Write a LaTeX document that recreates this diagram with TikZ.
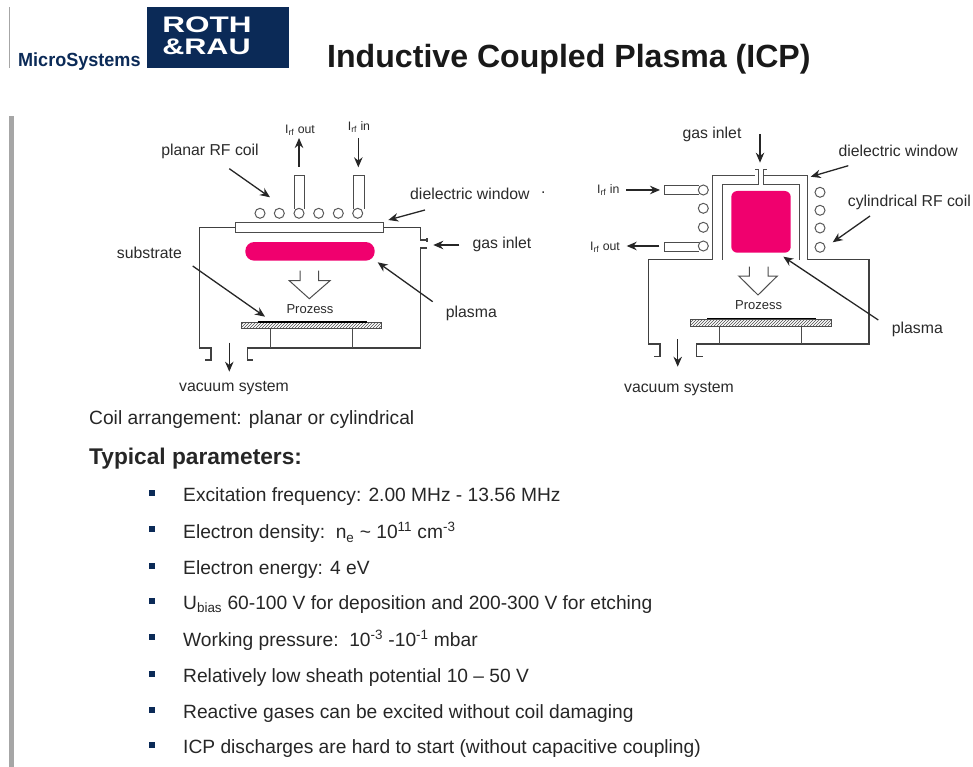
\documentclass[tikz,border=0pt]{standalone}
\usepackage{fontspec}
\setmainfont{Liberation Sans}
\usetikzlibrary{patterns,arrows.meta}
\definecolor{rrnavy}{HTML}{0B2A57}
\definecolor{plasmared}{HTML}{F0006E}
\definecolor{inkgray}{HTML}{2A2A2A}
\tikzset{
  lbl/.style={text=inkgray,inner sep=0pt,font=\fontsize{15.8}{17}\selectfont},
  small/.style={text=inkgray,inner sep=0pt,font=\fontsize{12.3}{14}\selectfont},
  body/.style={text=black!85,inner sep=0pt,anchor=west,font=\fontsize{19.2}{22}\selectfont},
  wall/.style={line width=1.5pt,draw=black!75},
  thinwall/.style={line width=1pt,draw=black!70},
  lead/.style={line width=1.3pt,draw=black!85,-{Stealth[length=10pt,width=8.5pt]}},
  coil/.style={line width=1pt,draw=black!65,fill=white},
  bullet/.style={fill=rrnavy,draw=none,minimum size=6.5pt,inner sep=0pt}
}
\newcommand{\Irf}{I\textsubscript{rf}}
\begin{document}
\begin{tikzpicture}[x=1pt,y=-1pt]
\useasboundingbox (0,0) rectangle (973,767);
% header
\fill[rrnavy] (147.3,7) rectangle (289,68.3);
\draw[black!35,line width=1pt] (9.5,7) -- (9.5,68);
\node[inner sep=0pt,text=white,font=\fontsize{22.5}{24}\bfseries\selectfont,xscale=1.4,anchor=west] (roth) at (162,25) {ROTH};
\node[inner sep=0pt,text=white,font=\fontsize{22.5}{24}\bfseries\selectfont,xscale=1.36,anchor=west] (rau) at (162,46.5) {\&RAU};
\node[inner sep=0pt,text=rrnavy,font=\fontsize{19}{21}\bfseries\selectfont,xscale=0.95,anchor=west] (micro) at (18,62) {MicroSystems};
\node[inner sep=0pt,anchor=west,text=black!90,font=\fontsize{32.1}{34}\bfseries\selectfont] (title) at (327,59) {Inductive Coupled Plasma (ICP)};
\fill[black!35] (9,116) rectangle (14,767);
% planar reactor
\draw[wall] (235,227.7) -- (199.5,227.7) -- (199.5,348) -- (211,348) -- (211,360) -- (205,360);
\draw[wall] (383,227.7) -- (420.7,227.7) -- (420.7,240) -- (427,240) (427,238) -- (427,242);
\draw[wall] (427,248) -- (420.7,248) -- (420.7,348) -- (247.7,348) -- (247.7,360) -- (253,360);
\draw[thinwall] (235,223) rectangle (383,232);
\foreach \cx in {260,279.3,299,318.7,338.3,357.7}
  \draw[coil] (\cx,213.3) circle (5);
\draw[thinwall] (294,209) -- (294,175.7) -- (304,175.7) -- (304,209);
\draw[thinwall] (353.3,209) -- (353.3,175.7) -- (364,175.7) -- (364,209);
\fill[plasmared,rounded corners=9pt] (245.3,242) rectangle (374.7,260.7);
\draw[thinwall] (300,270.7) -- (300,280.7) -- (289.3,280.7) -- (309.3,298.7) -- (330,280.7) -- (318.7,280.7) -- (318.7,270.7);
\node[small,font=\fontsize{13}{15}\selectfont] (prozessa) at (310,309) {Prozess};
\draw[thinwall,pattern=north east lines,pattern color=black!70] (241.3,322.7) rectangle (381.7,328.7);
\draw[line width=1.6pt] (258.3,321.7) -- (366.7,321.7);
\draw[thinwall] (270.3,328.7) -- (270.3,348) (352.3,328.7) -- (352.3,348);
% planar labels
\node[lbl] (coila) at (210,151.5) {planar RF coil};
\node[small] (outa) at (300,130) {\Irf{} out};
\node[small] (ina) at (359,127.3) {\Irf{} in};
\node[lbl,anchor=west] (wina) at (410,193.5) {dielectric window};
\node[lbl,anchor=west] (dot) at (541,193) {.};
\node[lbl,anchor=west] (gasa) at (472.3,244.5) {gas inlet};
\node[lbl,anchor=west] (suba) at (116.7,253) {substrate};
\node[lbl,anchor=west] (plasa) at (445.7,313) {plasma};
\node[lbl] (vaca) at (234,388.5) {vacuum system};
\draw[lead] (229.3,168.7) -- (270,197.3);
\draw[lead] (299,166.7) -- (299,138);
\draw[lead] (358.3,138) -- (358.3,167.3);
\draw[lead] (425,210) -- (388.3,220);
\draw[lead] (459.3,245) -- (433.3,245);
\draw[lead] (192.7,266) -- (265,316.7);
\draw[lead] (432.7,301.7) -- (377.7,262.3);
\draw[lead] (229.3,342.7) -- (229.3,371.7);
% cylindrical reactor
\draw[wall] (712.7,259.7) -- (648.3,259.7) -- (648.3,344) -- (660,344) -- (660,356.7) -- (654.3,356.7);
\draw[wall] (807.3,259.7) -- (869,259.7) -- (869,344) -- (696.7,344) -- (696.7,356.7) -- (702.7,356.7);
\draw[thinwall] (712.7,259.7) -- (712.7,175.3) -- (755,175.3);
\draw[thinwall] (722.7,259.7) -- (722.7,184.7) -- (758.3,184.7) -- (758.3,169.3) -- (755,169.3);
\draw[thinwall] (807.3,259.7) -- (807.3,175.3) -- (763.3,175.3);
\draw[thinwall] (799.3,259.7) -- (799.3,184.7) -- (763.3,184.7) -- (763.3,169.3) -- (767,169.3);
\fill[plasmared,rounded corners=6pt] (731.3,191) rectangle (790.7,252.7);
\foreach \cy in {190,208.3,227.3,246}
  \draw[coil] (703.3,\cy) circle (5);
\foreach \cy in {192.3,210.3,228,247.3}
  \draw[coil] (820,\cy) circle (5);
\draw[thinwall] (698.5,185.7) -- (664,185.7) -- (664,194.7) -- (698.5,194.7);
\draw[thinwall] (698.5,242.3) -- (664,242.3) -- (664,251.3) -- (698.5,251.3);
\draw[thinwall] (749.3,266.7) -- (749.3,276) -- (738.7,276) -- (758,295) -- (777.3,276) -- (768,276) -- (768,266.7);
\node[small,font=\fontsize{13}{15}\selectfont] (prozessb) at (758.7,305.5) {Prozess};
\draw[thinwall,pattern=north east lines,pattern color=black!70] (690,319.3) rectangle (831,326);
\draw[line width=1.6pt] (707.3,318.3) -- (815.7,318.3);
\draw[thinwall] (719.7,326) -- (719.7,344) (801.3,326) -- (801.3,344);
% cylindrical labels
\node[lbl] (gasb) at (712,134) {gas inlet};
\node[lbl,anchor=west] (winb) at (838.3,150.5) {dielectric window};
\node[lbl,anchor=west] (coilb) at (847.7,202.5) {cylindrical RF coil};
\node[small,anchor=west] (inb) at (597,190) {\Irf{} in};
\node[small,anchor=west] (outb) at (590,247) {\Irf{} out};
\node[lbl,anchor=west] (plasb) at (891.7,329) {plasma};
\node[lbl] (vacb) at (679,389) {vacuum system};
\draw[lead] (760,134) -- (760,162.7);
\draw[lead] (848.3,165.7) -- (810.7,176.7);
\draw[lead] (870,216) -- (832.7,242.3);
\draw[lead] (626,190) -- (660,190);
\draw[lead] (659.3,246) -- (626.7,246);
\draw[lead] (878.3,320) -- (783.3,256.7);
\draw[lead] (677.7,339) -- (677.7,366.7);
% text block
\node[body] (coilline) at (89,420) {Coil arrangement: planar or cylindrical};
\node[body,font=\fontsize{22.7}{25}\bfseries\selectfont] (typical) at (89,458.5) {Typical parameters:};
\foreach \ly/\ltext in {495/{Excitation frequency: 2.00 MHz - 13.56 MHz},
    531/{Electron density:\ \ n\textsubscript{e} \textasciitilde{} 10\textsuperscript{11} cm\textsuperscript{-3}},
    568/{Electron energy: 4 eV},
    603/{U\textsubscript{bias} 60-100 V for deposition and 200-300 V for etching},
    639/{Working pressure:\ \ 10\textsuperscript{-3} -10\textsuperscript{-1} mbar},
    676/{Relatively low sheath potential 10 – 50 V},
    712/{Reactive gases can be excited without coil damaging},
    747/{ICP discharges are hard to start (without capacitive coupling)}}{
  \node[bullet] (mark\ly) at (152,\ly-2) {};
  \node[body] (item\ly) at (183,\ly+1.5) {\ltext};
}
\end{tikzpicture}
\end{document}
